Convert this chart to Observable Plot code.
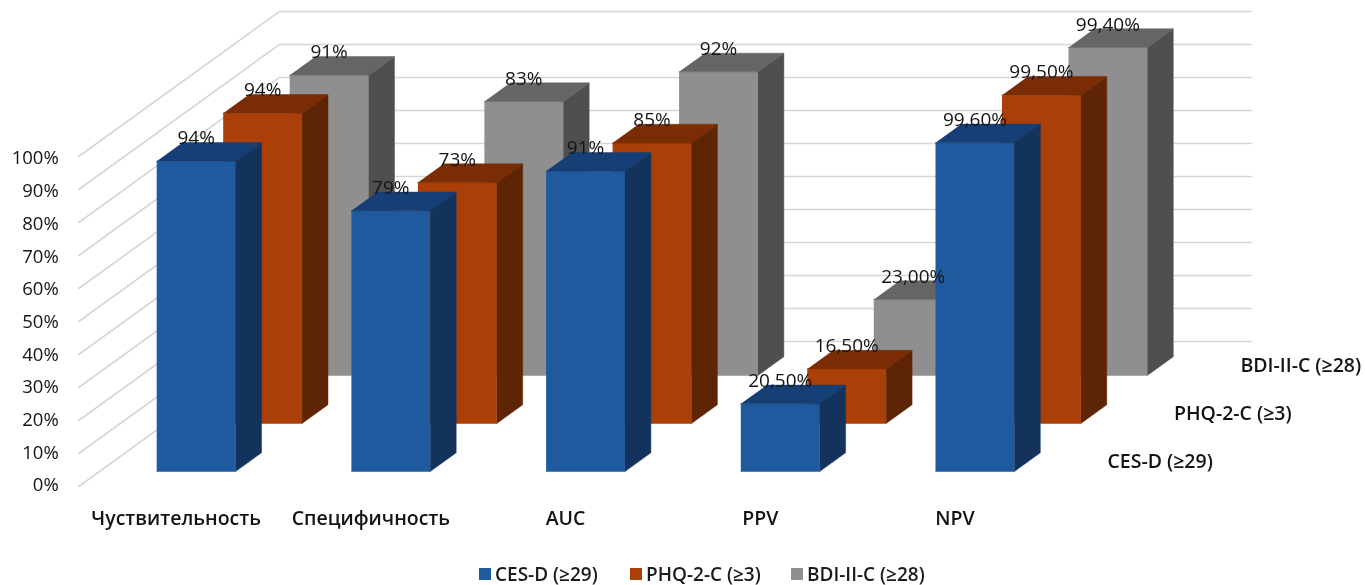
<!DOCTYPE html>
<html>
<head>
<meta charset="utf-8">
<script src="https://cdn.jsdelivr.net/npm/d3@7"></script>
<script src="https://cdn.jsdelivr.net/npm/@observablehq/plot@0.6"></script>
<style>
  html, body { margin: 0; padding: 0; background: #fff; }
  #chart svg { filter: blur(0.45px); }
  #legend { display: flex; align-items: center; height: 25px; padding: 3px 0 0 479px; box-sizing: border-box;
            font: 600 19px "Open Sans", sans-serif; color: #1c1c1c; white-space: nowrap; filter: blur(0.45px); }
  #legend i { display: inline-block; width: 12px; height: 12px; margin-right: 4px; }
  #legend span { display: flex; align-items: center; }
  #legend span:nth-child(1) { width: 151px; }
  #legend span:nth-child(2) { width: 161px; }
</style>
</head>
<body>
<div id="chart"></div>
<div id="legend"></div>
<script>
const categories = ["Чуствительность", "Специфичность", "AUC", "PPV", "NPV"];
const seriesNames = ["CES-D (≥29)", "PHQ-2-C (≥3)", "BDI-II-C (≥28)"];
const cesd = [94, 79, 91, 20.5, 99.6];
const phq = [94, 73, 85, 16.5, 99.5];
const bdi = [91, 83, 92, 23, 99.4];
const cesdLabels = ["94%", "79%", "91%", "20,50%", "99,60%"];
const phqLabels = ["94%", "73%", "85%", "16,50%", "99,50%"];
const bdiLabels = ["91%", "83%", "92%", "23,00%", "99,40%"];
const ticks = [0, 10, 20, 30, 40, 50, 60, 70, 80, 90, 100];
const faceColors = [
  {front: "#1f5a9e", side: "#14335c", top: "#163f75"},
  {front: "#ab3f08", side: "#5e2504", top: "#7a2d05"},
  {front: "#8f8f8f", side: "#4f4f4f", top: "#656565"}
];

// Oblique projection, in data units: one series step back shifts x and y
const stepX = 0.3415, stepY = 14.55;
const barW = 0.405, barD = 0.39;
const wallFront = -0.3125, wallBack = 2.708, wallLeft = -0.294, wallRight = 4.698;
const px = (x, s) => x + s * stepX;
const py = (v, s) => v + s * stepY;

const values = [cesd, phq, bdi];
const labels = [cesdLabels, phqLabels, bdiLabels];

const polys = [];
[2, 1, 0].forEach(s => categories.forEach((c, i) => {
  const v = values[s][i], col = faceColors[s];
  const add = (face, color, pts) => pts.forEach(([x, d, h]) =>
    polys.push({id: `${s}-${i}-${face}`, color, x: px(i + x, s + d), y: py(h, s + d)}));
  add("front", col.front, [[0, 0, 0], [barW, 0, 0], [barW, 0, v], [0, 0, v]]);
  add("side", col.side, [[barW, 0, 0], [barW, barD, 0], [barW, barD, v], [barW, 0, v]]);
  add("top", col.top, [[0, 0, v], [barW, 0, v], [barW, barD, v], [0, barD, v]]);
}));

const grid = ticks.flatMap(t => [
  {t, x: px(wallLeft, wallFront), y: py(t, wallFront)},
  {t, x: px(wallLeft, wallBack), y: py(t, wallBack)},
  {t, x: px(wallRight, wallBack), y: py(t, wallBack)}
]);

const valueLabels = [2, 1, 0].flatMap(s => categories.map((c, i) => ({
  x: px(i + barW / 2, s), y: py(values[s][i], s), text: labels[s][i]
})));

const font = '"Open Sans", sans-serif';
const ink = "#141414";

// x: one unit per category; y: one unit per percent
const unitX = 194.7, unitY = 3.3, originX = 156.2, originY = 471, W = 1365, H = 560;

const chart = Plot.plot({
  width: W, height: H,
  margin: 0,
  style: {background: "#fff", fontFamily: font},
  x: {axis: null, domain: [-originX / unitX, (W - originX) / unitX], range: [0, W]},
  y: {axis: null, domain: [(originY - H) / unitY, originY / unitY], range: [H, 0]},
  color: {type: "identity"},
  marks: [
    Plot.line(grid, {x: "x", y: "y", z: "t", stroke: "#d6d6d6", strokeWidth: 1.6}),
    Plot.line(polys, {x: "x", y: "y", z: "id", fill: "color", stroke: "color", strokeWidth: 0.5}),
    Plot.text(ticks, {x: px(wallLeft, wallFront), y: t => py(t * 0.991, wallFront), text: t => `${t}%`,
      textAnchor: "end", dx: -20, dy: -1, fontSize: 18.5, fontWeight: 500, fill: ink}),
    Plot.text(categories, {x: (c, i) => i + 0.1, y: -14.2, text: c => c,
      fontSize: 19.5, fontWeight: 600, fill: ink}),
    Plot.text(seriesNames, {x: (c, i) => px(4.883, i), y: (c, i) => py(3, i), text: c => c,
      textAnchor: "start", fontSize: 19.5, fontWeight: 600, fill: ink}),
    Plot.text(valueLabels, {x: "x", y: "y", text: "text", dy: -23, fontSize: 19, fontWeight: 500, fill: ink})
  ]
});
document.getElementById("chart").append(chart);

const legend = document.getElementById("legend");
seriesNames.forEach((n, i) => {
  const item = document.createElement("span");
  const sw = document.createElement("i");
  sw.style.background = faceColors[i].front;
  item.append(sw, n);
  legend.append(item);
});
</script>
</body>
</html>
